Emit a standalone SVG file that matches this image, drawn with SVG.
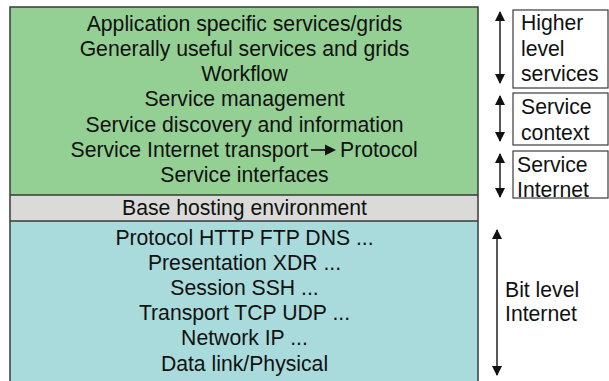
<svg xmlns="http://www.w3.org/2000/svg" width="609" height="381" viewBox="0 0 609 381">
<defs>
<style>
text{font-family:"Liberation Sans",Arial,sans-serif;font-size:21.2px;fill:#111}
.c{text-anchor:middle}
.bd{fill:none;stroke:#3a3a3a;stroke-width:1.5}
.lb{fill:#fff;stroke:#3a3a3a;stroke-width:1.2}
.ar{stroke:#111;stroke-width:1.4;fill:none;marker-start:url(#h);marker-end:url(#h)}
</style>
<marker id="h" viewBox="0 0 10 10" refX="9" refY="5" markerWidth="10" markerHeight="10" markerUnits="userSpaceOnUse" orient="auto-start-reverse">
<path d="M0,0 L10,5 L0,10 Z" fill="#111"/>
</marker>
</defs>
<rect width="609" height="381" fill="#fff"/>
<g id="stack">
<rect x="10" y="7" width="468" height="188" fill="#94CF94"/>
<rect x="10" y="195" width="468" height="26" fill="#DADBD9"/>
<rect x="10" y="221" width="468" height="170" fill="#A9DBDC"/>
<path class="bd" d="M10,385 V7 H478 V385 M10,195 H478 M10,221 H478"/>
</g>
<g id="service-layers">
<text class="c" x="244.5" y="30.5">Application specific services/grids</text>
<text class="c" x="244.5" y="55.8">Generally useful services and grids</text>
<text class="c" x="244.5" y="81">Workflow</text>
<text class="c" x="244.5" y="106.3">Service management</text>
<text class="c" x="244.5" y="131.5">Service discovery and information</text>
<text x="70.5" y="156.8">Service Internet transport</text>
<path d="M311,150 H326" stroke="#111" stroke-width="1.6"/>
<path d="M325,144.5 L336,150 L325,155.5 Z" fill="#111"/>
<text x="340" y="156.8">Protocol</text>
<text class="c" x="244.5" y="182">Service interfaces</text>
</g>
<g id="base-hosting">
<text class="c" x="244.5" y="215">Base hosting environment</text>
</g>
<g id="bit-layers">
<text class="c" x="244.5" y="245">Protocol HTTP FTP DNS ...</text>
<text class="c" x="244.5" y="270">Presentation XDR ...</text>
<text class="c" x="244.5" y="295">Session SSH ...</text>
<text class="c" x="244.5" y="320">Transport TCP UDP ...</text>
<text class="c" x="244.5" y="345">Network IP ...</text>
<text class="c" x="244.5" y="371">Data link/Physical</text>
</g>
<g id="higher-level">
<rect class="lb" x="513" y="10" width="95" height="78"/>
<text x="521" y="30">Higher</text>
<text x="521" y="55.5">level</text>
<text x="521" y="81">services</text>
</g>
<g id="service-context">
<rect class="lb" x="513" y="93" width="95" height="52"/>
<text x="521" y="114">Service</text>
<text x="521" y="139.5">context</text>
</g>
<g id="service-internet">
<rect class="lb" x="513" y="151" width="95" height="47"/>
<text x="517" y="172">Service</text>
<text x="517" y="196.5">Internet</text>
</g>
<g id="bit-level">
<text x="505" y="297">Bit level</text>
<text x="505" y="321">Internet</text>
</g>
<g id="connectors">
<path class="ar" d="M500,12 V83"/>
<path class="ar" d="M500,96 V141"/>
<path class="ar" d="M500,154 V197"/>
<path class="ar" d="M497,230 V375"/>
</g>
</svg>
